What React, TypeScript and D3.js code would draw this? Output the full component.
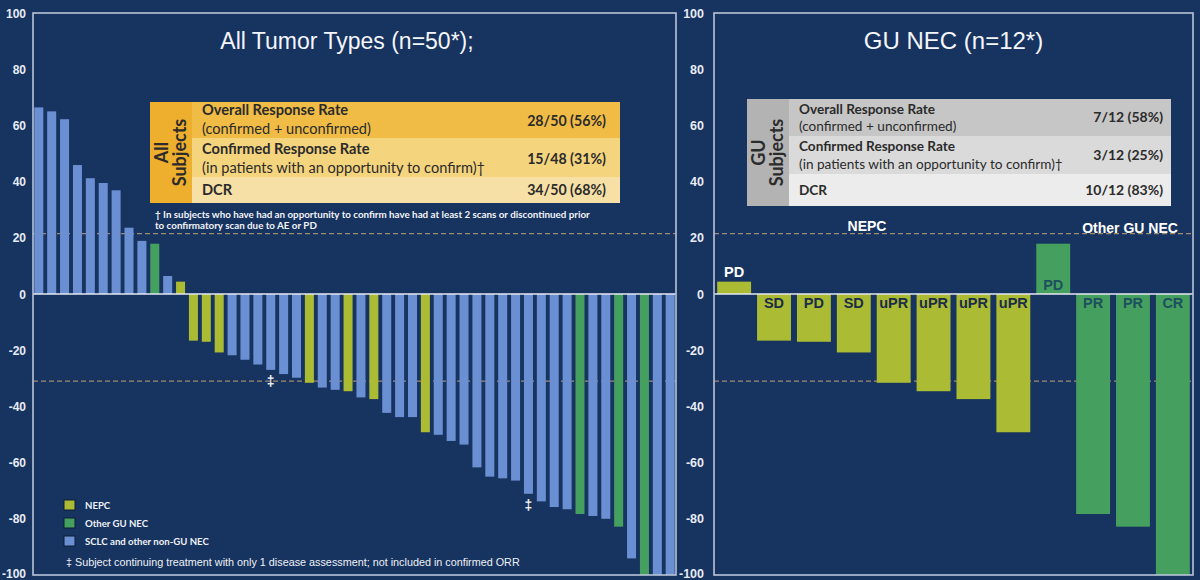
import React from "react";
import * as d3 from "d3";

// ---------- DATA ----------
const allTypes = [
  "S","S","S","S","S","S","S","S","S","G","S","N",
  "N","N","N","S","S","S","S","S","S","N","S","S","N","S","N","S","S","S",
  "N","S","S","S","S","S","S","S","S","S","S","S","G","S","S","G","S","G","S","S",
];
const allValues = [
  66.4, 65, 62.2, 45.9, 41.2, 39.5, 36.9, 23.6, 18.9, 17.9, 6.4, 4.4,
  -16.6, -17, -20.8, -21.8, -23.4, -25.1, -27, -28.5, -29.8, -31.6, -33.3, -34.1, -34.6, -36.8, -37.4, -42.3, -43.8, -43.8,
  -49.2, -50.1, -52.3, -53.6, -61.7, -65, -65.6, -66.4, -71.1, -73.8, -75.8, -76.6, -78.3, -79, -80, -82.8, -94.1, -100, -100, -100,
];
const daggerIdx = [18, 38];

const guTypes = ["N","N","N","N","N","N","N","N","G","G","G","G"];
const guValues = [4.4, -16.6, -17, -20.8, -31.6, -34.6, -37.4, -49.2, 17.9, -78.3, -82.8, -100];
const guLabels = ["PD","SD","PD","SD","uPR","uPR","uPR","uPR","PD","PR","PR","CR"];

const yTicks = [100, 80, 60, 40, 20, 0, -20, -40, -60, -80, -100];
const refLines = [21.5, -31];

const allTable = [
  { bold: "Overall Response Rate", sub: "(confirmed + unconfirmed)", value: "28/50 (56%)" },
  { bold: "Confirmed Response Rate", sub: "(in patients with an opportunity to confirm)\u2020", value: "15/48 (31%)" },
  { bold: "DCR", sub: "", value: "34/50 (68%)" },
];
const guTable = [
  { bold: "Overall Response Rate", sub: "(confirmed + unconfirmed)", value: "7/12 (58%)" },
  { bold: "Confirmed Response Rate", sub: "(in patients with an opportunity to confirm)\u2020", value: "3/12 (25%)" },
  { bold: "DCR", sub: "", value: "10/12 (83%)" },
];
const legendItems = [
  { key: "N", label: "NEPC" },
  { key: "G", label: "Other GU NEC" },
  { key: "S", label: "SCLC and other non-GU NEC" },
];

// ---------- STYLE ----------
const BG = "#17335f";
const COLORS: Record<string, string> = { N: "#abbb34", G: "#45a05f", S: "#6a8fd3" };
const LABEL_DARK: Record<string, string> = { N: "#1b2d48", G: "#1d4f5e" };
const BORDER = "#b9c3d9";
const DASH = "#a08a74";
const ARIAL = "'Liberation Sans', Arial, sans-serif";
const CAL = "Lato, 'Open Sans', sans-serif";

const TOP = 13, BOTTOM = 575;
const y = d3.scaleLinear().domain([-100, 100]).range([BOTTOM, TOP]);

function Axis({ x0, x1, labelX, fs }: { x0: number; x1: number; labelX: number; fs: number }) {
  return (
    <g>
      {yTicks.map((t) => (
        <text key={t} x={labelX} y={Math.min(y(t) + 4.5, 578)} textAnchor="end" fontFamily={ARIAL} fontWeight="bold" fontSize={fs} fill="#e8ecf5">
          {t}
        </text>
      ))}
      {refLines.map((r) => (
        <line key={r} x1={x0} x2={x1} y1={y(r)} y2={y(r)} stroke={DASH} strokeWidth={1.2} strokeDasharray="5,3" />
      ))}
    </g>
  );
}

function Table({ x0, x1, yRows, colW, colors, leftColor, title, rows, valueX, textX, baselines, fs, vfs }: any) {
  const cx = x0 + colW / 2;
  return (
    <g>
      {rows.map((r: any, i: number) => (
        <rect key={i} x={x0 + colW} y={yRows[i]} width={x1 - x0 - colW} height={yRows[i + 1] - yRows[i]} fill={colors[i]} />
      ))}
      <rect x={x0} y={yRows[0]} width={colW} height={yRows[3] - yRows[0]} fill={leftColor} />
      <g transform={`translate(${cx},${(yRows[0] + yRows[3]) / 2}) rotate(-90)`}>
        <text x={0} y={-3} textAnchor="middle" fontFamily={CAL} fontWeight="bold" fontSize={18} fill="#2b2b2b">{title[0]}</text>
        <text x={0} y={15} textAnchor="middle" fontFamily={CAL} fontWeight="bold" fontSize={18} fill="#2b2b2b">{title[1]}</text>
      </g>
      {rows.map((r: any, i: number) => (
        <g key={i}>
          <text x={textX} y={baselines[i][0]} fontFamily={CAL} fontWeight="bold" fontSize={fs} fill="#2b2b2b">{r.bold}</text>
          {r.sub && (
            <text x={textX} y={baselines[i][1]} fontFamily={CAL} fontSize={fs} fill="#2b2b2b">{r.sub}</text>
          )}
          <text x={valueX} y={baselines[i][2]} textAnchor="end" fontFamily={CAL} fontWeight="bold" fontSize={vfs} fill="#2b2b2b">{r.value}</text>
        </g>
      ))}
    </g>
  );
}

export default function App() {
  const LX0 = 33, LX1 = 676, RX0 = 714, RX1 = 1193;
  const xL = d3.scaleBand<number>().domain(d3.range(allValues.length)).range([LX0, LX1]).paddingInner(0.3).paddingOuter(0.1);
  const xR = d3.scaleBand<number>().domain(d3.range(guValues.length)).range([RX0, RX1]).paddingInner(0.15).paddingOuter(0.08);
  const y0 = y(0);

  return (
    <svg width={1200} height={580} style={{ position: "absolute", left: 0, top: 0 }}>
      <rect width={1200} height={580} fill={BG} />

      {/* ---------- LEFT ---------- */}
      <Axis x0={LX0} x1={LX1} labelX={26} fs={12} />
      {allValues.map((v, i) => (
        <rect key={i} x={xL(i)} width={xL.bandwidth()} y={Math.min(y(v), y0)} height={Math.abs(y(v) - y0)} fill={COLORS[allTypes[i]]} />
      ))}
      {daggerIdx.map((i) => (
        <text key={i} x={(xL(i) as number) + xL.bandwidth() / 2} y={y(allValues[i]) + 16} textAnchor="middle" fontFamily={ARIAL} fontWeight="bold" fontSize={14} fill="#f2f4f8">‡</text>
      ))}
      <line x1={LX0} x2={LX1} y1={y0} y2={y0} stroke="#e6eaf2" strokeWidth={1.6} />
      <rect x={LX0} y={TOP} width={LX1 - LX0} height={BOTTOM - TOP} fill="none" stroke={BORDER} strokeWidth={1.6} />
      <text x={347} y={49} textAnchor="middle" fontFamily={ARIAL} fontSize={23} fill="#f4f6fa">All Tumor Types (n=50*);</text>

      <Table
        x0={150} x1={620} yRows={[102, 138, 177, 203]} colW={42}
        colors={["#f0bc45", "#f5d47e", "#f7e0a6"]} leftColor="#eeae2e"
        title={["All", "Subjects"]} rows={allTable} valueX={606} textX={202}
        baselines={[[115, 134, 126], [154, 173, 164], [195, 0, 195]]} fs={14.6} vfs={14.2}
      />
      <text x={155} y={218} fontFamily={CAL} fontWeight="bold" fontSize={9.8} fill="#f2f4f8">† In subjects who have had an opportunity to confirm have had at least 2 scans or discontinued prior</text>
      <text x={155} y={229} fontFamily={CAL} fontWeight="bold" fontSize={9.8} fill="#f2f4f8">to confirmatory scan due to AE or PD</text>

      {legendItems.map((l, i) => (
        <g key={l.key}>
          <rect x={64} y={500 + i * 18} width={11} height={10} fill={COLORS[l.key]} stroke="#0e1e36" strokeWidth={1} />
          <text x={85} y={509 + i * 18} fontFamily={CAL} fontWeight="bold" fontSize={9.6} fill="#eef1f6">{l.label}</text>
        </g>
      ))}
      <text x={66} y={566} fontFamily={ARIAL} fontSize={10.8} fill="#eef1f6">‡ Subject continuing treatment with only 1 disease assessment; not included in confirmed ORR</text>

      {/* ---------- RIGHT ---------- */}
      <Axis x0={RX0} x1={RX1} labelX={704} fs={12.5} />
      {guValues.map((v, i) => (
        <rect key={i} x={xR(i)} width={xR.bandwidth()} y={Math.min(y(v), y0)} height={Math.abs(y(v) - y0)} fill={COLORS[guTypes[i]]} />
      ))}
      <line x1={RX0} x2={RX1} y1={y0} y2={y0} stroke="#e6eaf2" strokeWidth={1.6} />
      <rect x={RX0} y={TOP} width={RX1 - RX0} height={BOTTOM - TOP} fill="none" stroke={BORDER} strokeWidth={1.6} />
      {guValues.map((v, i) => {
        const cx = (xR(i) as number) + xR.bandwidth() / 2;
        let ty: number, fill: string;
        if (v >= 0 && guTypes[i] === "N") { ty = y(v) - 5; fill = "#ffffff"; }
        else if (v >= 0) { ty = y0 - 4; fill = LABEL_DARK[guTypes[i]]; }
        else { ty = y0 + 14; fill = LABEL_DARK[guTypes[i]]; }
        return (
          <text key={i} x={cx} y={ty} textAnchor="middle" fontFamily={ARIAL} fontWeight="bold" fontSize={14.5} fill={fill}>{guLabels[i]}</text>
        );
      })}
      <text x={867} y={231} textAnchor="middle" fontFamily={ARIAL} fontWeight="bold" fontSize={14} fill="#ffffff">NEPC</text>
      <text x={1130} y={233} textAnchor="middle" fontFamily={ARIAL} fontWeight="bold" fontSize={14} fill="#ffffff">Other GU NEC</text>
      <text x={(RX0 + RX1) / 2} y={49} textAnchor="middle" fontFamily={ARIAL} fontSize={24} fill="#f4f6fa">GU NEC (n=12*)</text>

      <Table
        x0={747} x1={1171} yRows={[99, 136, 174, 206]} colW={42}
        colors={["#c6c6c6", "#dadada", "#ececec"]} leftColor="#b3b3b3"
        title={["GU", "Subjects"]} rows={guTable} valueX={1163} textX={799}
        baselines={[[114, 131, 122], [151, 169, 160], [195, 0, 195]]} fs={13.6} vfs={14}
      />
    </svg>
  );
}
